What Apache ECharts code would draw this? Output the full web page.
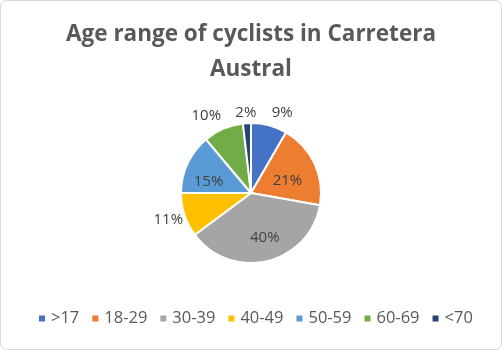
<!DOCTYPE html>
<html>
<head>
<meta charset="utf-8">
<script src="https://cdn.jsdelivr.net/npm/echarts@6/dist/echarts.min.js"></script>
<style>
  html, body { margin: 0; padding: 0; background: #fff; }
  #chart { width: 502px; height: 350px; }
</style>
</head>
<body>
<div id="chart"></div>
<script>
// Age groups and their shares (%)
const ageGroups = ['>17', '18-29', '30-39', '40-49', '50-59', '60-69', '<70'];
const shares = [9, 21, 40, 11, 15, 10, 2];
const sliceColors = ['#4472C4', '#ED7D31', '#A5A5A5', '#FFC000', '#5B9BD5', '#70AD47', '#264478'];
// which slices carry their label inside the wedge
const labelInside = [false, true, true, false, true, false, false];

const chart = echarts.init(document.getElementById('chart'));

// small "best fit" nudges so the percentage labels sit clear of the wedges
function nudgeLabel(params) {
  const shift = {
    0: [-5, -3], 1: [2, 4], 2: [5, 8], 3: [8, 2],
    4: [-8, 5], 5: [20, -14], 6: [15, 0]
  }[params.dataIndex] || [0, 0];
  return { dx: shift[0], dy: shift[1] };
}

chart.setOption({
  animation: false,
  color: sliceColors,
  title: {
    text: 'Age range of cyclists in Carretera\nAustral',
    left: 'center',
    top: 12,
    textStyle: {
      fontFamily: 'Open Sans',
      fontWeight: 'bold',
      fontSize: 22.5,
      lineHeight: 35,
      color: '#595959'
    }
  },
  legend: {
    bottom: 18,
    left: 32,
    itemWidth: 8,
    itemHeight: 8,
    itemGap: 11,
    icon: 'rect',
    textStyle: { fontFamily: 'Open Sans', fontSize: 16.5, color: '#595959' },
    data: ageGroups
  },
  graphic: [{
    type: 'rect',
    shape: { x: 0.5, y: 0.5, width: 501, height: 349, r: 6 },
    style: { fill: 'none', stroke: '#d9d9d9', lineWidth: 1 },
    silent: true
  }],
  series: [{
    type: 'pie',
    center: [251, 193],
    radius: [0, 70],
    startAngle: 90,
    clockwise: true,
    itemStyle: { borderColor: '#fff', borderWidth: 2 },
    label: {
      formatter: '{c}%',
      fontFamily: 'Open Sans',
      fontSize: 15,
      color: '#404040'
    },
    labelLine: { show: false, length: 10, length2: 0 },
    labelLayout: nudgeLabel,
    data: ageGroups.map((name, i) => ({
      name,
      value: shares[i],
      label: { position: labelInside[i] ? 'inside' : 'outside' }
    }))
  }]
});
</script>
</body>
</html>
